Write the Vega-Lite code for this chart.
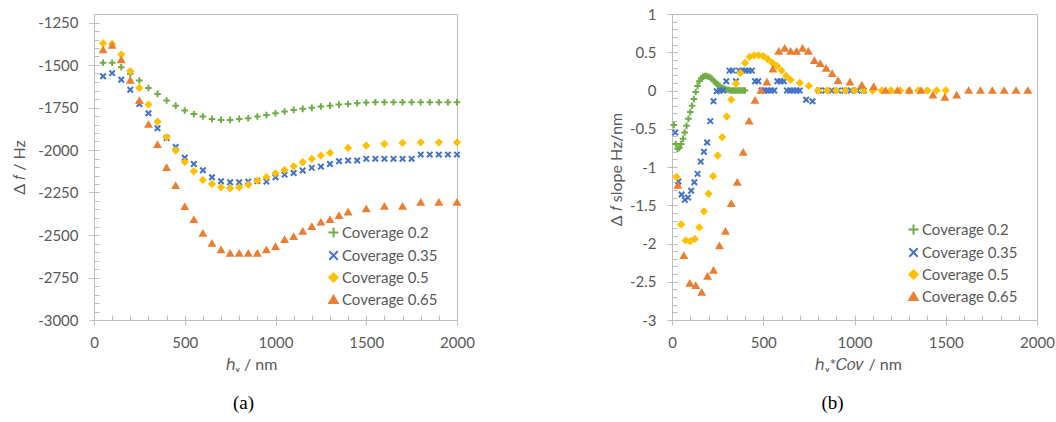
{
  "$schema": "https://vega.github.io/schema/vega-lite/v6.json",
  "padding": {"left": 10, "top": 6, "right": 20, "bottom": 5},
  "background": "white",
  "spacing": 215,
  "bounds": "flush",
  "resolve": {"scale": {"color": "independent", "stroke": "independent", "shape": "independent"}, "legend": {"color": "independent", "stroke": "independent", "shape": "independent"}},
  "config": {
    "view": {"stroke": "#bfbfbf", "strokeWidth": 1},
    "font": "Lato",
    "axis": {"labelFont": "Lato", "labelFontSize": 15, "labelColor": "#595959", "titleFont": "Lato", "titleFontSize": 16, "titleColor": "#595959", "titleFontWeight": "normal", "domainColor": "#bfbfbf", "tickColor": "#bfbfbf", "grid": false, "tickSize": 5, "labelPadding": 10, "labelFlush": false},
    "legend": {"labelFont": "Lato", "labelFontSize": 15, "labelColor": "#595959", "symbolSize": 70, "symbolStrokeWidth": 2, "rowPadding": 5, "labelOffset": 1, "padding": 0, "title": null}
  },
  "datasets": {
    "a": [
      {"s":"0.2","x":50,"y":-1487},{"s":"0.2","x":100,"y":-1487},{"s":"0.2","x":150,"y":-1513},{"s":"0.2","x":200,"y":-1552},{"s":"0.2","x":250,"y":-1591},{"s":"0.2","x":300,"y":-1635},{"s":"0.2","x":350,"y":-1670},{"s":"0.2","x":400,"y":-1709},{"s":"0.2","x":450,"y":-1739},{"s":"0.2","x":500,"y":-1768},{"s":"0.2","x":550,"y":-1788},{"s":"0.2","x":600,"y":-1803},{"s":"0.2","x":650,"y":-1817},{"s":"0.2","x":700,"y":-1823},{"s":"0.2","x":750,"y":-1823},{"s":"0.2","x":800,"y":-1817},{"s":"0.2","x":850,"y":-1813},{"s":"0.2","x":900,"y":-1803},{"s":"0.2","x":950,"y":-1794},{"s":"0.2","x":1000,"y":-1784},{"s":"0.2","x":1050,"y":-1774},{"s":"0.2","x":1100,"y":-1764},{"s":"0.2","x":1150,"y":-1758},{"s":"0.2","x":1200,"y":-1752},{"s":"0.2","x":1250,"y":-1744},{"s":"0.2","x":1300,"y":-1739},{"s":"0.2","x":1350,"y":-1733},{"s":"0.2","x":1400,"y":-1729},{"s":"0.2","x":1450,"y":-1725},{"s":"0.2","x":1500,"y":-1721},{"s":"0.2","x":1550,"y":-1719},{"s":"0.2","x":1600,"y":-1719},{"s":"0.2","x":1650,"y":-1719},{"s":"0.2","x":1700,"y":-1719},{"s":"0.2","x":1750,"y":-1719},{"s":"0.2","x":1800,"y":-1719},{"s":"0.2","x":1850,"y":-1719},{"s":"0.2","x":1900,"y":-1719},{"s":"0.2","x":1950,"y":-1719},{"s":"0.2","x":2000,"y":-1719},
      {"s":"0.35","x":50,"y":-1566},{"s":"0.35","x":100,"y":-1548},{"s":"0.35","x":150,"y":-1587},{"s":"0.35","x":200,"y":-1646},{"s":"0.35","x":250,"y":-1729},{"s":"0.35","x":300,"y":-1784},{"s":"0.35","x":350,"y":-1872},{"s":"0.35","x":400,"y":-1929},{"s":"0.35","x":450,"y":-1982},{"s":"0.35","x":500,"y":-2046},{"s":"0.35","x":550,"y":-2082},{"s":"0.35","x":600,"y":-2119},{"s":"0.35","x":650,"y":-2160},{"s":"0.35","x":700,"y":-2184},{"s":"0.35","x":750,"y":-2190},{"s":"0.35","x":800,"y":-2190},{"s":"0.35","x":850,"y":-2186},{"s":"0.35","x":900,"y":-2182},{"s":"0.35","x":950,"y":-2186},{"s":"0.35","x":1000,"y":-2160},{"s":"0.35","x":1050,"y":-2145},{"s":"0.35","x":1100,"y":-2135},{"s":"0.35","x":1150,"y":-2121},{"s":"0.35","x":1200,"y":-2105},{"s":"0.35","x":1250,"y":-2098},{"s":"0.35","x":1300,"y":-2082},{"s":"0.35","x":1350,"y":-2066},{"s":"0.35","x":1400,"y":-2062},{"s":"0.35","x":1450,"y":-2062},{"s":"0.35","x":1500,"y":-2052},{"s":"0.35","x":1550,"y":-2052},{"s":"0.35","x":1600,"y":-2052},{"s":"0.35","x":1650,"y":-2052},{"s":"0.35","x":1700,"y":-2052},{"s":"0.35","x":1750,"y":-2052},{"s":"0.35","x":1800,"y":-2027},{"s":"0.35","x":1850,"y":-2027},{"s":"0.35","x":1900,"y":-2027},{"s":"0.35","x":1950,"y":-2027},{"s":"0.35","x":2000,"y":-2027},
      {"s":"0.5","x":50,"y":-1372},{"s":"0.5","x":100,"y":-1376},{"s":"0.5","x":150,"y":-1438},{"s":"0.5","x":200,"y":-1536},{"s":"0.5","x":250,"y":-1635},{"s":"0.5","x":300,"y":-1733},{"s":"0.5","x":350,"y":-1833},{"s":"0.5","x":400,"y":-1925},{"s":"0.5","x":450,"y":-2003},{"s":"0.5","x":500,"y":-2070},{"s":"0.5","x":550,"y":-2125},{"s":"0.5","x":600,"y":-2176},{"s":"0.5","x":650,"y":-2200},{"s":"0.5","x":700,"y":-2219},{"s":"0.5","x":750,"y":-2225},{"s":"0.5","x":800,"y":-2219},{"s":"0.5","x":850,"y":-2205},{"s":"0.5","x":900,"y":-2180},{"s":"0.5","x":950,"y":-2160},{"s":"0.5","x":1000,"y":-2137},{"s":"0.5","x":1050,"y":-2117},{"s":"0.5","x":1100,"y":-2096},{"s":"0.5","x":1150,"y":-2072},{"s":"0.5","x":1200,"y":-2052},{"s":"0.5","x":1250,"y":-2033},{"s":"0.5","x":1300,"y":-2017},{"s":"0.5","x":1400,"y":-1988},{"s":"0.5","x":1500,"y":-1974},{"s":"0.5","x":1600,"y":-1964},{"s":"0.5","x":1700,"y":-1958},{"s":"0.5","x":1800,"y":-1955},{"s":"0.5","x":1900,"y":-1955},{"s":"0.5","x":2000,"y":-1955},
      {"s":"0.65","x":50,"y":-1411},{"s":"0.65","x":100,"y":-1385},{"s":"0.65","x":150,"y":-1470},{"s":"0.65","x":200,"y":-1591},{"s":"0.65","x":250,"y":-1709},{"s":"0.65","x":300,"y":-1850},{"s":"0.65","x":350,"y":-1969},{"s":"0.65","x":400,"y":-2103},{"s":"0.65","x":450,"y":-2209},{"s":"0.65","x":500,"y":-2333},{"s":"0.65","x":550,"y":-2410},{"s":"0.65","x":600,"y":-2490},{"s":"0.65","x":650,"y":-2549},{"s":"0.65","x":700,"y":-2588},{"s":"0.65","x":750,"y":-2608},{"s":"0.65","x":800,"y":-2608},{"s":"0.65","x":850,"y":-2608},{"s":"0.65","x":900,"y":-2608},{"s":"0.65","x":950,"y":-2588},{"s":"0.65","x":1000,"y":-2568},{"s":"0.65","x":1050,"y":-2527},{"s":"0.65","x":1100,"y":-2510},{"s":"0.65","x":1150,"y":-2478},{"s":"0.65","x":1200,"y":-2451},{"s":"0.65","x":1250,"y":-2425},{"s":"0.65","x":1300,"y":-2410},{"s":"0.65","x":1350,"y":-2386},{"s":"0.65","x":1400,"y":-2366},{"s":"0.65","x":1500,"y":-2347},{"s":"0.65","x":1600,"y":-2331},{"s":"0.65","x":1700,"y":-2331},{"s":"0.65","x":1800,"y":-2308},{"s":"0.65","x":1900,"y":-2308},{"s":"0.65","x":2000,"y":-2308}
    ],
    "b": [
      {"s":"0.2","x":10,"y":-0.45},{"s":"0.2","x":20,"y":-0.7},{"s":"0.2","x":30,"y":-0.76},{"s":"0.2","x":40,"y":-0.75},{"s":"0.2","x":50,"y":-0.7},{"s":"0.2","x":60,"y":-0.63},{"s":"0.2","x":70,"y":-0.55},{"s":"0.2","x":80,"y":-0.46},{"s":"0.2","x":90,"y":-0.37},{"s":"0.2","x":100,"y":-0.28},{"s":"0.2","x":110,"y":-0.2},{"s":"0.2","x":120,"y":-0.11},{"s":"0.2","x":130,"y":-0.02},{"s":"0.2","x":140,"y":0.06},{"s":"0.2","x":150,"y":0.12},{"s":"0.2","x":160,"y":0.16},{"s":"0.2","x":170,"y":0.18},{"s":"0.2","x":180,"y":0.19},{"s":"0.2","x":190,"y":0.19},{"s":"0.2","x":200,"y":0.18},{"s":"0.2","x":210,"y":0.17},{"s":"0.2","x":220,"y":0.15},{"s":"0.2","x":230,"y":0.12},{"s":"0.2","x":240,"y":0.1},{"s":"0.2","x":250,"y":0.08},{"s":"0.2","x":260,"y":0.06},{"s":"0.2","x":270,"y":0.04},{"s":"0.2","x":280,"y":0.03},{"s":"0.2","x":290,"y":0.02},{"s":"0.2","x":300,"y":0.01},{"s":"0.2","x":310,"y":0.01},{"s":"0.2","x":320,"y":0},{"s":"0.2","x":330,"y":0},{"s":"0.2","x":340,"y":0},{"s":"0.2","x":350,"y":0},{"s":"0.2","x":360,"y":0},{"s":"0.2","x":370,"y":0},{"s":"0.2","x":380,"y":0},{"s":"0.2","x":390,"y":0},{"s":"0.2","x":400,"y":0},
      {"s":"0.35","x":17.5,"y":-0.55},{"s":"0.35","x":35,"y":-1.19},{"s":"0.35","x":52.5,"y":-1.36},{"s":"0.35","x":70,"y":-1.43},{"s":"0.35","x":87.5,"y":-1.4},{"s":"0.35","x":105,"y":-1.31},{"s":"0.35","x":122.5,"y":-1.2},{"s":"0.35","x":140,"y":-1.09},{"s":"0.35","x":157.5,"y":-0.93},{"s":"0.35","x":175,"y":-0.8},{"s":"0.35","x":192.5,"y":-0.68},{"s":"0.35","x":210,"y":-0.4},{"s":"0.35","x":227.5,"y":-0.14},{"s":"0.35","x":245,"y":-0.01},{"s":"0.35","x":262.5,"y":0},{"s":"0.35","x":280,"y":0},{"s":"0.35","x":297.5,"y":0.12},{"s":"0.35","x":315,"y":0.26},{"s":"0.35","x":332.5,"y":0.26},{"s":"0.35","x":350,"y":0.12},{"s":"0.35","x":367.5,"y":0.26},{"s":"0.35","x":385,"y":0.26},{"s":"0.35","x":402.5,"y":0.26},{"s":"0.35","x":420,"y":0.26},{"s":"0.35","x":437.5,"y":0.26},{"s":"0.35","x":455,"y":0.12},{"s":"0.35","x":472.5,"y":0.12},{"s":"0.35","x":490,"y":0},{"s":"0.35","x":507.5,"y":0},{"s":"0.35","x":525,"y":0},{"s":"0.35","x":542.5,"y":0},{"s":"0.35","x":560,"y":0},{"s":"0.35","x":577.5,"y":0.12},{"s":"0.35","x":595,"y":0.12},{"s":"0.35","x":612.5,"y":0.12},{"s":"0.35","x":630,"y":0},{"s":"0.35","x":647.5,"y":0},{"s":"0.35","x":665,"y":0},{"s":"0.35","x":682.5,"y":0},{"s":"0.35","x":700,"y":0},{"s":"0.35","x":735,"y":-0.12},{"s":"0.35","x":770,"y":-0.14},{"s":"0.35","x":805,"y":0},{"s":"0.35","x":840,"y":0},{"s":"0.35","x":875,"y":0},{"s":"0.35","x":910,"y":0},{"s":"0.35","x":945,"y":0},{"s":"0.35","x":980,"y":0},{"s":"0.35","x":1015,"y":0},{"s":"0.35","x":1050,"y":0},
      {"s":"0.5","x":25,"y":-1.13},{"s":"0.5","x":50,"y":-1.75},{"s":"0.5","x":75,"y":-1.96},{"s":"0.5","x":100,"y":-1.97},{"s":"0.5","x":125,"y":-1.94},{"s":"0.5","x":150,"y":-1.79},{"s":"0.5","x":175,"y":-1.58},{"s":"0.5","x":200,"y":-1.35},{"s":"0.5","x":225,"y":-1.12},{"s":"0.5","x":250,"y":-0.85},{"s":"0.5","x":275,"y":-0.61},{"s":"0.5","x":300,"y":-0.34},{"s":"0.5","x":325,"y":-0.12},{"s":"0.5","x":350,"y":0.09},{"s":"0.5","x":375,"y":0.23},{"s":"0.5","x":400,"y":0.36},{"s":"0.5","x":425,"y":0.44},{"s":"0.5","x":450,"y":0.46},{"s":"0.5","x":475,"y":0.46},{"s":"0.5","x":500,"y":0.45},{"s":"0.5","x":525,"y":0.41},{"s":"0.5","x":550,"y":0.36},{"s":"0.5","x":575,"y":0.32},{"s":"0.5","x":600,"y":0.26},{"s":"0.5","x":625,"y":0.19},{"s":"0.5","x":650,"y":0.14},{"s":"0.5","x":700,"y":0.1},{"s":"0.5","x":750,"y":0.06},{"s":"0.5","x":800,"y":0},{"s":"0.5","x":850,"y":0},{"s":"0.5","x":900,"y":0},{"s":"0.5","x":950,"y":0},{"s":"0.5","x":1000,"y":0},{"s":"0.5","x":1050,"y":0},{"s":"0.5","x":1100,"y":0},{"s":"0.5","x":1150,"y":0},{"s":"0.5","x":1200,"y":0},{"s":"0.5","x":1250,"y":0},{"s":"0.5","x":1300,"y":0},{"s":"0.5","x":1350,"y":0},{"s":"0.5","x":1400,"y":0},{"s":"0.5","x":1450,"y":0},{"s":"0.5","x":1500,"y":0},
      {"s":"0.65","x":32.5,"y":-1.24},{"s":"0.65","x":65,"y":-2.16},{"s":"0.65","x":97.5,"y":-2.52},{"s":"0.65","x":130,"y":-2.55},{"s":"0.65","x":162.5,"y":-2.64},{"s":"0.65","x":195,"y":-2.43},{"s":"0.65","x":227.5,"y":-2.35},{"s":"0.65","x":260,"y":-2.03},{"s":"0.65","x":292.5,"y":-1.84},{"s":"0.65","x":325,"y":-1.48},{"s":"0.65","x":357.5,"y":-1.2},{"s":"0.65","x":390,"y":-0.81},{"s":"0.65","x":422.5,"y":-0.4},{"s":"0.65","x":455,"y":-0.13},{"s":"0.65","x":487.5,"y":0},{"s":"0.65","x":520,"y":0.11},{"s":"0.65","x":552.5,"y":0.28},{"s":"0.65","x":585,"y":0.51},{"s":"0.65","x":617.5,"y":0.55},{"s":"0.65","x":650,"y":0.51},{"s":"0.65","x":682.5,"y":0.51},{"s":"0.65","x":715,"y":0.55},{"s":"0.65","x":747.5,"y":0.51},{"s":"0.65","x":780,"y":0.39},{"s":"0.65","x":812.5,"y":0.35},{"s":"0.65","x":845,"y":0.29},{"s":"0.65","x":877.5,"y":0.22},{"s":"0.65","x":910,"y":0.13},{"s":"0.65","x":975,"y":0.11},{"s":"0.65","x":1040,"y":0.07},{"s":"0.65","x":1105,"y":0.05},{"s":"0.65","x":1170,"y":0},{"s":"0.65","x":1235,"y":0},{"s":"0.65","x":1300,"y":0},{"s":"0.65","x":1365,"y":0},{"s":"0.65","x":1430,"y":-0.06},{"s":"0.65","x":1495,"y":-0.09},{"s":"0.65","x":1560,"y":-0.06},{"s":"0.65","x":1625,"y":0},{"s":"0.65","x":1690,"y":0},{"s":"0.65","x":1755,"y":0},{"s":"0.65","x":1820,"y":0},{"s":"0.65","x":1885,"y":0},{"s":"0.65","x":1950,"y":0}
    ]
  },
  "hconcat": [
    {
      "width": 363, "height": 306,
      "data": {"name": "a"},
      "title": {"text": "(a)", "orient": "bottom", "anchor": "middle", "font": "Liberation Serif", "fontSize": 19, "fontWeight": "normal", "color": "#000000", "offset": 22, "dx": -32},
      "layer": [
        {
          "mark": {"type": "point", "filled": true, "strokeWidth": 2, "opacity": 1},
          "encoding": {
            "x": {"field": "x", "type": "quantitative", "scale": {"domain": [0, 2000], "nice": false}, "axis": {"orient": "bottom", "values": [0, 500, 1000, 1500, 2000], "labelExpr": "'' + datum.value", "title": "ℎᵥ / nm", "titlePadding": 6, "titleX": 157, "titleAlign": "center"}},
            "y": {"field": "y", "type": "quantitative", "scale": {"domain": [-3000, -1200], "nice": false, "zero": false}, "axis": {"orient": "left", "values": [-3000, -2750, -2500, -2250, -2000, -1750, -1500, -1250], "labelExpr": "'' + datum.value", "labelPadding": 11, "title": "Δ 𝑓 / Hz", "titleX": -75, "titleY": 153, "titleAngle": -90, "titleAlign": "center", "titleBaseline": "middle"}},
            "color": {"field": "s", "type": "nominal", "scale": {"domain": ["0.2", "0.35", "0.5", "0.65"], "range": ["#70AD47", "#4472C4", "#FFC000", "#ED7D31"]}, "legend": {"orient": "none", "legendX": 232, "legendY": 211, "labelExpr": "'Coverage ' + datum.label"}},
            "stroke": {"field": "s", "type": "nominal", "scale": {"domain": ["0.2", "0.35", "0.5", "0.65"], "range": ["#70AD47", "#4472C4", "#FFC000", "#ED7D31"]}, "legend": {"orient": "none", "legendX": 232, "legendY": 211, "labelExpr": "'Coverage ' + datum.label"}},
            "shape": {"field": "s", "type": "nominal", "scale": {"domain": ["0.2", "0.35", "0.5", "0.65"], "range": ["M-1.2,0H1.2M0,-1.2V1.2", "M-1,-1L1,1M-1,1L1,-1", "diamond", "triangle-up"]}, "legend": {"orient": "none", "legendX": 232, "legendY": 211, "labelExpr": "'Coverage ' + datum.label"}}
          }
        },
        {
          "mark": {"type": "point", "opacity": 0},
          "encoding": {
            "x": {"field": "x", "type": "quantitative", "axis": {"orient": "bottom", "values": [0,100,200,300,400,500,600,700,800,900,1000,1100,1200,1300,1400,1500,1600,1700,1800,1900,2000], "tickSize": -5, "labels": false, "domain": false, "title": null}},
            "y": {"field": "y", "type": "quantitative", "axis": {"orient": "left", "values": [-3000,-2950,-2900,-2850,-2800,-2750,-2700,-2650,-2600,-2550,-2500,-2450,-2400,-2350,-2300,-2250,-2200,-2150,-2100,-2050,-2000,-1950,-1900,-1850,-1800,-1750,-1700,-1650,-1600,-1550,-1500,-1450,-1400,-1350,-1300,-1250], "tickSize": -5, "labels": false, "domain": false, "title": null}}
          }
        }
      ],
      "resolve": {"axis": {"x": "independent", "y": "independent"}}
    },
    {
      "width": 365, "height": 306,
      "data": {"name": "b"},
      "title": {"text": "(b)", "orient": "bottom", "anchor": "middle", "font": "Liberation Serif", "fontSize": 19, "fontWeight": "normal", "color": "#000000", "offset": 22, "dx": -22},
      "layer": [
        {
          "mark": {"type": "point", "filled": true, "strokeWidth": 2, "opacity": 1},
          "encoding": {
            "x": {"field": "x", "type": "quantitative", "scale": {"domain": [0, 2000], "nice": false}, "axis": {"orient": "bottom", "values": [0, 500, 1000, 1500, 2000], "labelExpr": "'' + datum.value", "title": "ℎᵥ*𝐶𝑜𝑣 / nm", "titlePadding": 6, "titleX": 186, "titleAlign": "center"}},
            "y": {"field": "y", "type": "quantitative", "scale": {"domain": [-3, 1], "nice": false, "zero": false}, "axis": {"orient": "left", "values": [-3, -2.5, -2, -1.5, -1, -0.5, 0, 0.5, 1], "labelExpr": "'' + datum.value", "labelPadding": 11, "title": "Δ 𝑓  slope Hz/nm", "titleX": -56, "titleY": 155, "titleAngle": -90, "titleAlign": "center", "titleBaseline": "middle"}},
            "color": {"field": "s", "type": "nominal", "scale": {"domain": ["0.2", "0.35", "0.5", "0.65"], "range": ["#70AD47", "#4472C4", "#FFC000", "#ED7D31"]}, "legend": {"orient": "none", "legendX": 234, "legendY": 208, "labelExpr": "'Coverage ' + datum.label"}},
            "stroke": {"field": "s", "type": "nominal", "scale": {"domain": ["0.2", "0.35", "0.5", "0.65"], "range": ["#70AD47", "#4472C4", "#FFC000", "#ED7D31"]}, "legend": {"orient": "none", "legendX": 234, "legendY": 208, "labelExpr": "'Coverage ' + datum.label"}},
            "shape": {"field": "s", "type": "nominal", "scale": {"domain": ["0.2", "0.35", "0.5", "0.65"], "range": ["M-1.2,0H1.2M0,-1.2V1.2", "M-1,-1L1,1M-1,1L1,-1", "diamond", "triangle-up"]}, "legend": {"orient": "none", "legendX": 234, "legendY": 208, "labelExpr": "'Coverage ' + datum.label"}}
          }
        },
        {
          "mark": {"type": "point", "opacity": 0},
          "encoding": {
            "x": {"field": "x", "type": "quantitative", "axis": {"orient": "bottom", "values": [0,100,200,300,400,500,600,700,800,900,1000,1100,1200,1300,1400,1500,1600,1700,1800,1900,2000], "tickSize": -5, "labels": false, "domain": false, "title": null}},
            "y": {"field": "y", "type": "quantitative", "axis": {"orient": "left", "values": [-3,-2.9,-2.8,-2.7,-2.6,-2.5,-2.4,-2.3,-2.2,-2.1,-2,-1.9,-1.8,-1.7,-1.6,-1.5,-1.4,-1.3,-1.2,-1.1,-1,-0.9,-0.8,-0.7,-0.6,-0.5,-0.4,-0.3,-0.2,-0.1,0,0.1,0.2,0.3,0.4,0.5,0.6,0.7,0.8,0.9,1], "tickSize": -5, "labels": false, "domain": false, "title": null}}
          }
        }
      ],
      "resolve": {"axis": {"x": "independent", "y": "independent"}}
    }
  ]
}
